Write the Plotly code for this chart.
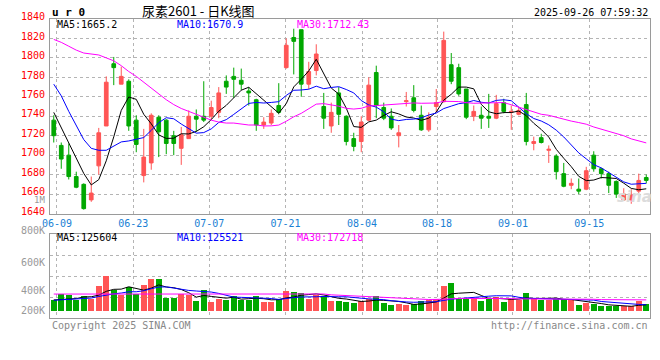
import plotly.graph_objects as go

# ---------------- data ----------------
dates = [
    "06-09", "06-10", "06-11", "06-12", "06-13", "06-16", "06-17", "06-18", "06-19", "06-20",
    "06-23", "06-24", "06-25", "06-26", "06-27", "06-30", "07-01", "07-02", "07-03", "07-04",
    "07-07", "07-08", "07-09", "07-10", "07-11", "07-14", "07-15", "07-16", "07-17", "07-18",
    "07-21", "07-22", "07-23", "07-24", "07-25", "07-28", "07-29", "07-30", "07-31", "08-01",
    "08-04", "08-05", "08-06", "08-07", "08-08", "08-11", "08-12", "08-13", "08-14", "08-15",
    "08-18", "08-19", "08-20", "08-21", "08-22", "08-25", "08-26", "08-27", "08-28", "08-29",
    "09-01", "09-02", "09-03", "09-04", "09-05", "09-08", "09-09", "09-10", "09-11", "09-12",
    "09-15", "09-16", "09-17", "09-18", "09-19", "09-22", "09-23", "09-24", "09-25", "09-26",
]

opens = [1736, 1710, 1700, 1678, 1670, 1654, 1689, 1730, 1794, 1773,
         1776, 1736, 1679, 1692, 1739, 1736, 1720, 1707, 1717, 1740,
         1740, 1740, 1744, 1776, 1781, 1777, 1766, 1757, 1731, 1733,
         1751, 1790, 1821, 1829, 1773, 1787, 1750, 1730, 1764, 1740,
         1717, 1714, 1736, 1785, 1749, 1740, 1720, 1755, 1759, 1741,
         1726, 1750, 1755, 1793, 1790, 1768, 1740, 1741, 1740, 1738,
         1754, 1744, 1742, 1752, 1712, 1718, 1705, 1699, 1681, 1669,
         1665, 1665, 1700, 1686, 1681, 1673, 1654, 1654, 1663, 1677]
highs = [1741, 1713, 1712, 1683, 1671, 1678, 1728, 1781, 1801, 1791,
         1778, 1741, 1727, 1743, 1741, 1737, 1725, 1729, 1746, 1747,
         1776, 1756, 1770, 1782, 1790, 1789, 1770, 1758, 1739, 1747,
         1774, 1820, 1830, 1829, 1796, 1814, 1764, 1754, 1770, 1741,
         1723, 1740, 1780, 1792, 1754, 1748, 1731, 1765, 1772, 1751,
         1744, 1768, 1827, 1805, 1794, 1768, 1751, 1750, 1763, 1762,
         1758, 1751, 1749, 1764, 1719, 1722, 1710, 1701, 1692, 1676,
         1676, 1688, 1704, 1687, 1683, 1674, 1666, 1665, 1681, 1680]
lows = [1713, 1686, 1675, 1666, 1644, 1652, 1680, 1730, 1772, 1773,
        1725, 1703, 1672, 1685, 1698, 1701, 1700, 1690, 1717, 1724,
        1734, 1736, 1738, 1763, 1759, 1767, 1751, 1725, 1727, 1731,
        1742, 1789, 1783, 1760, 1768, 1782, 1727, 1723, 1731, 1710,
        1704, 1703, 1735, 1738, 1736, 1726, 1708, 1750, 1744, 1725,
        1724, 1744, 1754, 1773, 1761, 1737, 1735, 1727, 1728, 1737,
        1743, 1726, 1741, 1710, 1705, 1712, 1692, 1675, 1667, 1665,
        1660, 1664, 1683, 1676, 1661, 1656, 1653, 1650, 1661, 1671]
closes = [1720, 1696, 1678, 1667, 1645, 1661, 1723, 1775, 1790, 1781,
          1730, 1711, 1698, 1741, 1724, 1712, 1712, 1721, 1740, 1737,
          1736, 1749, 1764, 1770, 1778, 1773, 1764, 1731, 1734, 1743,
          1744, 1813, 1817, 1773, 1786, 1804, 1738, 1744, 1742, 1714,
          1709, 1734, 1772, 1751, 1738, 1728, 1723, 1756, 1746, 1726,
          1739, 1754, 1818, 1776, 1763, 1739, 1745, 1738, 1738, 1753,
          1745, 1745, 1746, 1714, 1714, 1713, 1706, 1683, 1668, 1671,
          1663, 1684, 1686, 1681, 1669, 1660, 1660, 1659, 1674, 1674]

# volume in thousands (K)
volumes_k = [176, 227, 217, 176, 207, 185, 303, 399, 271, 217,
             297, 227, 313, 370, 370, 195, 195, 227, 217, 160,
             271, 153, 185, 176, 207, 176, 176, 207, 153, 153,
             185, 258, 249, 239, 185, 217, 207, 165, 163, 153,
             143, 163, 185, 207, 143, 121, 131, 121, 131, 163,
             172, 178, 306, 331, 194, 194, 194, 162, 185, 204,
             152, 185, 172, 242, 178, 172, 172, 185, 178, 172,
             126, 146, 132, 112, 111, 112, 112, 110, 160, 134]

# moving-average values before enough history is on screen
ma5_lead = [1744, 1728, 1712, 1697]
ma10_lead = [1773, 1761, 1745, 1730, 1716, 1707, 1705, 1705, 1709]
ma30_lead = [1819, 1816, 1812, 1808, 1805, 1804, 1803, 1800, 1797, 1792,
             1786, 1781, 1775, 1769, 1763, 1757, 1752, 1748, 1745, 1742,
             1739, 1736, 1734, 1733, 1733, 1732, 1731, 1731, 1730]
vma5_lead = [172, 175, 180, 185]
vma10_lead = [169, 172, 176, 180, 185, 190, 205, 220, 230]
vma30_lead = [228, 228, 227, 227, 227, 227, 226, 226, 226, 226,
              227, 227, 227, 228, 228, 228, 228, 228, 227, 227,
              227, 227, 227, 227, 227, 227, 227, 227, 227]

price_ticks = [1840, 1820, 1800, 1780, 1760, 1740, 1720, 1700, 1680, 1660, 1640]
tick_labels = ["06-09", "06-23", "07-07", "07-21", "08-04", "08-18", "09-01", "09-15"]
price_ma_text = ["MA5:1665.2", "MA10:1670.9", "MA30:1712.43"]
vol_ma_text = ["MA5:125604", "MA10:125521", "MA30:172718"]
vol_axis_labels = ["800K", "600K", "400K", "200K"]

# ---------------- styling ----------------
RED = "#ff5555"
GREEN = "#00a800"
GRID = "#b4b4b4"
BORDER = "#9a9a9a"
XLBL = "#1a7fd4"
MONO = "DejaVu Sans Mono"
tick_pos = [0.43, 10.6, 20.74, 30.9, 41.1, 51.1, 61.23, 71.4]
VBASE = 68000

W, H = 660, 360
ML, MR, MT, MB = 50, 10, 19, 42
PW, PH = W - ML - MR, H - MT - MB
MAIN_TOP, MAIN_BOT = 19.0, 213.5


def px(xp):
    return (xp - ML) / PW


def py(yp):
    return (H - MB - yp) / PH


def price_to_px(v):
    return MAIN_BOT - (v - 1640) * (MAIN_BOT - MAIN_TOP) / 200.0


def moving(vals, n, lead):
    out = []
    for i in range(len(vals)):
        if i >= n - 1:
            out.append(sum(vals[i - n + 1:i + 1]) / n)
        else:
            out.append(lead[i])
    return out


xs = list(range(len(dates)))
ma5 = moving(closes, 5, ma5_lead)
ma10 = moving(closes, 10, ma10_lead)
ma30 = moving(closes, 30, ma30_lead)
vols = [v * 1000 for v in volumes_k]
vma5 = [v * 1000 for v in moving(volumes_k, 5, vma5_lead)]
vma10 = [v * 1000 for v in moving(volumes_k, 10, vma10_lead)]
vma30 = [v * 1000 for v in moving(volumes_k, 30, vma30_lead)]
vcolors = [RED if c > o else GREEN for o, c in zip(opens, closes)]

fig = go.Figure()
fig.add_trace(go.Candlestick(
    x=xs, open=opens, high=highs, low=lows, close=closes,
    increasing=dict(line=dict(color=RED, width=1), fillcolor=RED),
    decreasing=dict(line=dict(color=GREEN, width=1), fillcolor=GREEN),
    whiskerwidth=0, xaxis="x", yaxis="y", showlegend=False, hoverinfo="skip",
))
for series, col in ((ma5, "#000000"), (ma10, "#0000ff"), (ma30, "#ff00ff")):
    fig.add_trace(go.Scatter(x=xs, y=series, mode="lines", line=dict(color=col, width=1),
                             xaxis="x", yaxis="y", showlegend=False, hoverinfo="skip"))

fig.add_trace(go.Bar(
    x=xs, y=[v - VBASE for v in vols], base=VBASE, width=0.8,
    marker=dict(color=vcolors, line=dict(width=0)),
    xaxis="x2", yaxis="y2", showlegend=False, hoverinfo="skip",
))
for series, col in ((vma5, "#000000"), (vma10, "#0000ff"), (vma30, "#ff00ff")):
    fig.add_trace(go.Scatter(x=xs, y=series, mode="lines", line=dict(color=col, width=1),
                             xaxis="x2", yaxis="y2", showlegend=False, hoverinfo="skip"))

main_bottom = py(MAIN_BOT)
vol_top = py(234)

axis_common = dict(showline=True, mirror=True, linecolor=BORDER, linewidth=1,
                   showgrid=True, gridcolor=GRID, griddash="dot", gridwidth=1,
                   zeroline=False, ticks="", fixedrange=True, automargin=False)

fig.update_layout(
    width=W, height=H,
    margin=dict(l=ML, r=MR, t=MT, b=MB, pad=0),
    paper_bgcolor="white", plot_bgcolor="white",
    font=dict(family=MONO, size=10, color="#000000"),
    showlegend=False,
    xaxis=dict(domain=[0, 1], range=[-0.5, len(dates) - 0.5], anchor="y",
               tickmode="array", tickvals=tick_pos, ticktext=tick_labels,
               tickfont=dict(color=XLBL, size=10, family=MONO),
               rangeslider=dict(visible=False), **axis_common),
    yaxis=dict(domain=[main_bottom, 1], range=[1640, 1840], anchor="x",
               tick0=1640, dtick=20, showticklabels=False, **axis_common),
    xaxis2=dict(domain=[0, 1], range=[-0.5, len(dates) - 0.5], anchor="y2",
                tickmode="array", tickvals=tick_pos, showticklabels=False,
                rangeslider=dict(visible=False), **axis_common),
    yaxis2=dict(domain=[0, vol_top], range=[0, 800000], anchor="x2",
                tickmode="array", tickvals=[200000, 400000, 600000], showticklabels=False,
                **axis_common),
    bargap=0,
)

ann = []


def add_text(text, x, y, color="#000000", size=10, anchor="left", family=MONO, yanchor="middle"):
    ann.append(dict(text=text, x=px(x), y=py(y), xref="paper", yref="paper",
                    xanchor=anchor, yanchor=yanchor, showarrow=False,
                    font=dict(color=color, size=size, family=family)))


add_text("<b>u r 0</b>", 50, 12, size=11)
add_text("尿素2601 - 日K线图", 140, 10, size=13, family="Noto Sans CJK SC")
add_text("2025-09-26 07:59:32", 650, 12, anchor="right")
for v in price_ticks:
    add_text(str(v), 47, price_to_px(v) - 2.3, color="#ff0000", anchor="right", size=10)
ma_cols = ["#000000", "#0000ff", "#ff00ff"]
for t, c, xp in zip(price_ma_text, ma_cols, (55, 175, 295)):
    add_text(t, xp, 24.5, color=c)
for t, c, xp in zip(vol_ma_text, ma_cols, (55, 175, 295)):
    add_text(t, xp, 237, color=c)
add_text("1M", 47, 200.5, color="#999999", anchor="right", size=9)
for t, yp in zip(vol_axis_labels, (230, 262, 290, 310)):
    add_text(t, 47, yp, color="#999999", anchor="right", size=10)
add_text("Copyright 2025 SINA.COM", 50, 325, color="#888888")
add_text("http://finance.sina.com.cn", 650, 325, color="#888888", anchor="right")
add_text("<i><b>sina</b></i>", 634, 197, color="#dcdcdc", size=15, anchor="center",
         family="DejaVu Sans")

fig.update_layout(annotations=ann)
fig.write_html("out.html", config={"displayModeBar": False},
               post_script="document.body.style.margin='0px';")
